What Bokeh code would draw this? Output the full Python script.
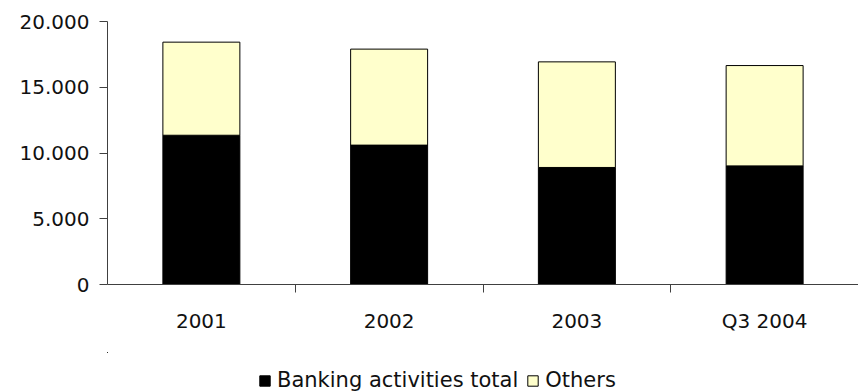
from bokeh.plotting import figure
from bokeh.layouts import column
from bokeh.models import Range1d, LinearAxis, FixedTicker, Legend, LegendItem
from bokeh.embed import file_html
from bokeh.resources import INLINE

years = ["2001", "2002", "2003", "Q3 2004"]
banking = [11350, 10600, 8900, 9020]
others = [7080, 7300, 8030, 7630]
y_ticks = [0, 5000, 10000, 15000, 20000]
y_tick_labels = ["0", "5.000", "10.000", "15.000", "20.000"]
series_names = ["Banking activities total", "Others"]
colors = ["#000000", "#FFFFCC"]

FONT = "DejaVu Sans"
FS = "20px"
AXC = "#404040"

n = len(years)
x_centers = [i + 0.5 for i in range(n)]
x_bounds = list(range(1, n))
data = {"x": x_centers, "banking": banking, "others": others}

p = figure(width=858, height=352, x_range=Range1d(0, n), y_range=Range1d(0, 20000),
           output_backend="svg", toolbar_location=None, x_axis_location=None,
           y_axis_location=None, min_border_left=107, min_border_top=21,
           min_border_right=0, min_border_bottom=68)
p.outline_line_color = None
p.background_fill_color = "white"
p.border_fill_color = "white"
for g in p.grid:
    g.visible = False

renderers = p.vbar_stack(["banking", "others"], x="x", width=0.41, source=data,
                         fill_color=colors, line_color="black", line_width=1)

# y axis
yax = LinearAxis(ticker=FixedTicker(ticks=y_ticks),
                 major_label_overrides={t: l for t, l in zip(y_ticks, y_tick_labels)})
yax.axis_line_color = AXC
yax.major_tick_line_color = AXC
yax.major_tick_out = 8
yax.major_tick_in = 0
yax.minor_tick_line_color = None
yax.major_label_standoff = 10
yax.major_label_text_font = FONT
yax.major_label_text_font_size = FS
yax.major_label_text_color = "#111111"
p.add_layout(yax, "left")

# x axis: labels at category centres, ticks at category boundaries
xax = LinearAxis(ticker=FixedTicker(ticks=x_centers, minor_ticks=x_bounds),
                 major_label_overrides={c: y for c, y in zip(x_centers, years)})
xax.axis_line_color = AXC
xax.major_tick_line_color = None
xax.major_tick_out = 8
xax.major_tick_in = 0
xax.minor_tick_line_color = AXC
xax.minor_tick_out = 8
xax.minor_tick_in = 0
xax.major_label_standoff = 16
xax.major_label_text_font = FONT
xax.major_label_text_font_size = FS
xax.major_label_text_color = "#111111"
p.add_layout(xax, "below")

# legend strip below the chart (bars here lie outside its view; only the legend shows)
p2 = figure(width=858, height=40, x_range=Range1d(100, 101), y_range=Range1d(-2, -1),
            output_backend="svg", toolbar_location=None, x_axis_location=None,
            y_axis_location=None, min_border=0)
p2.outline_line_color = None
p2.background_fill_color = "white"
p2.border_fill_color = "white"
for g in p2.grid:
    g.visible = False
leg_renderers = p2.vbar_stack(["banking", "others"], x="x", width=0.41, source=data,
                              fill_color=colors, line_color="black", line_width=1)

legend = Legend(items=[LegendItem(label=s, renderers=[r]) for s, r in zip(series_names, leg_renderers)],
                orientation="horizontal", location=(151, 0))
legend.border_line_color = None
legend.background_fill_alpha = 0
legend.label_text_font = FONT
legend.label_text_font_size = "21px"
legend.label_text_color = "#111111"
legend.glyph_width = 13
legend.glyph_height = 13
legend.label_standoff = 6
legend.spacing = 8
legend.padding = 0
legend.margin = 0
p2.add_layout(legend, "center")

layout = column(p, p2, spacing=0)
open("out.html", "w").write(file_html(layout, INLINE))
